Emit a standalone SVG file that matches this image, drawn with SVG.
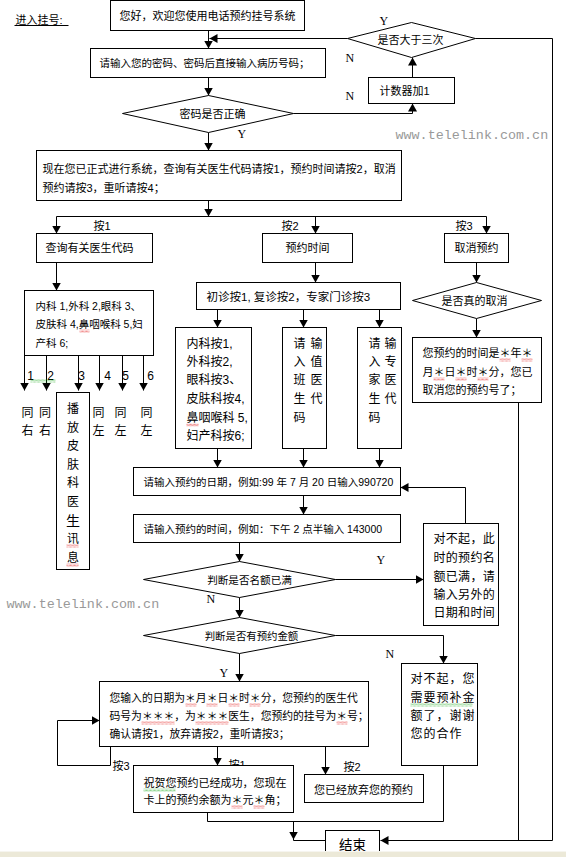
<svg xmlns="http://www.w3.org/2000/svg" width="566" height="857" viewBox="0 0 566 857">
<defs>
<style>
.b{fill:#fff;stroke:#000;stroke-width:1}
.l{fill:none;stroke:#000;stroke-width:1}
.t{font-family:"Liberation Sans","Noto Sans CJK SC",sans-serif;font-size:11px;fill:#000}
.m{text-anchor:middle}
.f12{font-size:12px}
.s{font-family:"Liberation Serif",serif;font-size:12px;fill:#000}
.w{font-family:"Liberation Mono",monospace;font-size:13.4px;fill:#999}
</style>
<marker id="a" markerWidth="9" markerHeight="9" refX="8" refY="4.5" orient="auto" markerUnits="userSpaceOnUse"><path d="M0,0 L8,4.5 L0,9 z" fill="#000"/></marker>
<pattern id="wr" width="4" height="3" patternUnits="userSpaceOnUse"><path d="M0,2.5 L2,0.5 L4,2.5" fill="none" stroke="#e00000" stroke-width="0.9"/></pattern>
<pattern id="wg" width="4" height="3" patternUnits="userSpaceOnUse"><path d="M0,2.5 L2,0.5 L4,2.5" fill="none" stroke="#00a000" stroke-width="0.9"/></pattern>
</defs>
<rect width="566" height="857" fill="#fff"/>
<g transform="translate(0.5,0.5)">
<g id="connectors" class="l">
<path d="M208,30 V48" marker-end="url(#a)"/>
<path d="M347,38 H209" marker-end="url(#a)"/>
<path d="M208,77 V95" marker-end="url(#a)"/>
<path d="M293,113 H412 V103" marker-end="url(#a)"/>
<path d="M412,77 V57" marker-end="url(#a)"/>
<path d="M475,38 H552 V840 H380" marker-end="url(#a)"/>
<path d="M208,132 V150" marker-end="url(#a)"/>
<path d="M208,200 V216" marker-end="url(#a)"/>
<path d="M56,216 H486"/>
<path d="M56,216 V233" marker-end="url(#a)"/>
<path d="M315,216 V233" marker-end="url(#a)"/>
<path d="M486,216 V233" marker-end="url(#a)"/>
<path d="M56,262 V290" marker-end="url(#a)"/>
<path d="M315,262 V282" marker-end="url(#a)"/>
<path d="M476,262 V282" marker-end="url(#a)"/>
<path d="M476,318 V337" marker-end="url(#a)"/>
<path d="M518,402 V840"/>
<path d="M24,355 V390" marker-end="url(#a)"/>
<path d="M46,355 V390" marker-end="url(#a)"/>
<path d="M78,355 V390" marker-end="url(#a)"/>
<path d="M99,355 V390" marker-end="url(#a)"/>
<path d="M122,355 V390" marker-end="url(#a)"/>
<path d="M143,355 V390" marker-end="url(#a)"/>
<path d="M217,309 V327" marker-end="url(#a)"/>
<path d="M303,309 V327" marker-end="url(#a)"/>
<path d="M379,309 V327" marker-end="url(#a)"/>
<path d="M217,448 V467" marker-end="url(#a)"/>
<path d="M303,448 V467" marker-end="url(#a)"/>
<path d="M379,448 V467" marker-end="url(#a)"/>
<path d="M303,495 V514" marker-end="url(#a)"/>
<path d="M239,542 V561" marker-end="url(#a)"/>
<path d="M335,579 H423" marker-end="url(#a)"/>
<path d="M465,523 V487 H400" marker-end="url(#a)"/>
<path d="M239,597 V617" marker-end="url(#a)"/>
<path d="M239,653 V681" marker-end="url(#a)"/>
<path d="M335,635 H443 V663" marker-end="url(#a)"/>
<path d="M110,746 V765 H57 V720 H99" marker-end="url(#a)"/>
<path d="M217,746 V765" marker-end="url(#a)"/>
<path d="M325,746 V774" marker-end="url(#a)"/>
<path d="M443,765 V821 H207 V812"/>
<path d="M293,821 V840 H325"/>
<path d="M293,821 V839" marker-end="url(#a)"/>
</g>
<g id="labels">
<text class="t" x="15" y="23">进入挂号:</text>
<path class="l" d="M14,25 H68"/>
<text class="s" x="379" y="24">Y</text>
<text class="s" x="345" y="61">N</text>
<text class="s" x="345" y="99">N</text>
<text class="s" x="237" y="137">Y</text>
<text class="t" x="93" y="229">按1</text>
<text class="t" x="281" y="229">按2</text>
<text class="t" x="455" y="229">按3</text>
<text class="t f12 m" x="30" y="379">1</text>
<text class="t f12 m" x="50" y="379">2</text>
<text class="t f12 m" x="81" y="379">3</text>
<text class="t f12 m" x="107" y="379">4</text>
<text class="t f12 m" x="125" y="379">5</text>
<text class="t f12 m" x="150" y="379">6</text>
<text class="t f12 m" x="27" y="416">同</text><text class="t f12 m" x="27" y="434">右</text>
<text class="t f12 m" x="44.5" y="416">同</text><text class="t f12 m" x="44.5" y="434">右</text>
<text class="t f12 m" x="98" y="416">同</text><text class="t f12 m" x="98" y="434">左</text>
<text class="t f12 m" x="120" y="416">同</text><text class="t f12 m" x="120" y="434">左</text>
<text class="t f12 m" x="146" y="416">同</text><text class="t f12 m" x="146" y="434">左</text>
<text class="s" x="376" y="563">Y</text>
<text class="s" x="206" y="602">N</text>
<text class="s" x="219" y="676">Y</text>
<text class="s" x="385" y="657">N</text>
<text class="t" x="112" y="769">按3</text>
<text class="t" x="228" y="768">按1</text>
<text class="t" x="343" y="770">按2</text>
<text class="w" x="395" y="138">www.telelink.com.cn</text>
<text class="w" x="6" y="607">www.telelink.com.cn</text>
</g>
<g id="n-welcome"><rect class="b" x="110" y="0" width="194" height="30"/><text class="t m" x="207" y="19">您好，欢迎您使用电话预约挂号系统</text></g>
<g id="n-password"><rect class="b" x="90" y="48" width="235" height="29"/><text class="t" x="99" y="66.5" style="font-size:10.5px">请输入您的密码、密码后直接输入病历号码；</text></g>
<g id="n-check"><path class="b" d="M122,113 L208,95 L293,113 L208,132 z"/><text class="t m" x="212" y="117">密码是否正确</text></g>
<g id="n-counter"><rect class="b" x="368" y="77" width="86" height="26"/><text class="t" x="379" y="94">计数器加1</text></g>
<g id="n-three"><path class="b" d="M347,38 L411,22 L475,38 L411,57 z"/><text class="t m" x="410" y="43">是否大于三次</text></g>
<g id="n-menu"><rect class="b" x="36" y="150" width="365" height="50"/><text class="t" x="42" y="172">现在您已正式进行系统，查询有关医生代码请按1，预约时间请按2，取消</text><text class="t" x="42" y="191">预约请按3，重听请按4；</text></g>
<g id="n-query"><rect class="b" x="36" y="233" width="116" height="29"/><text class="t" x="45" y="251">查询有关医生代码</text></g>
<g id="n-time"><rect class="b" x="262" y="233" width="90" height="29"/><text class="t m" x="307" y="251">预约时间</text></g>
<g id="n-cancel"><rect class="b" x="444" y="233" width="64" height="29"/><text class="t m" x="476" y="251">取消预约</text></g>
<g id="n-dept"><rect class="b" x="24" y="290" width="129" height="65"/><g class="t" style="font-size:10.5px"><text x="35" y="309">内科 1,外科 2,眼科 3、</text><text x="35" y="327">皮肤科 4,鼻咽喉科 5,妇</text><text x="35" y="346">产科 6;</text></g></g>
<g id="n-play"><rect class="b" x="56" y="392" width="33" height="177"/>
<text class="t f12 m" x="72.5" y="412">播</text><text class="t f12 m" x="72.5" y="431">放</text><text class="t f12 m" x="72.5" y="449">皮</text><text class="t f12 m" x="72.5" y="468">肤</text><text class="t f12 m" x="72.5" y="486">科</text><text class="t f12 m" x="72.5" y="505">医</text><text class="t m" x="72.5" y="525" style="font-size:14px">生</text><text class="t f12 m" x="72.5" y="542">讯</text><text class="t f12 m" x="72.5" y="561">息</text></g>
<g id="n-visit"><rect class="b" x="196" y="282" width="204" height="27"/><text class="t" x="206" y="300" style="font-size:11.5px">初诊按1, 复诊按2，专家门诊按3</text></g>
<g id="n-first"><rect class="b" x="175" y="327" width="76" height="121"/><text class="t f12" x="186" y="347">内科按1,</text><text class="t f12" x="186" y="365">外科按2,</text><text class="t f12" x="186" y="383">眼科按3、</text><text class="t f12" x="186" y="402">皮肤科按4,</text><text class="t f12" x="186" y="421">鼻咽喉科  5,</text><text class="t f12" x="186" y="439">妇产科按6;</text></g>
<g id="n-duty"><rect class="b" x="282" y="327" width="44" height="121"/><g class="t f12" style="letter-spacing:5px"><text x="293" y="347">请输</text><text x="293" y="365">入值</text><text x="293" y="383">班医</text><text x="293" y="402">生代</text><text x="293" y="421">码</text></g></g>
<g id="n-expert"><rect class="b" x="357" y="327" width="44" height="121"/><g class="t f12" style="letter-spacing:4px"><text x="368" y="347">请输</text><text x="368" y="365">入专</text><text x="368" y="383">家医</text><text x="368" y="402">生代</text><text x="368" y="421">码</text></g></g>
<g id="n-confirm-cancel"><path class="b" d="M412,300 L476,282 L541,300 L476,318 z"/><text class="t m" x="474" y="304">是否真的取消</text></g>
<g id="n-cancelled"><rect class="b" x="412" y="337" width="129" height="65"/><text class="t" x="422" y="356">您预约的时间是＊年＊</text><text class="t" x="422" y="375">月＊日＊时＊分，您已</text><text class="t" x="422" y="393">取消您的预约号了；</text></g>
<g id="n-date"><rect class="b" x="133" y="467" width="267" height="28"/><text class="t" x="143" y="485" style="font-size:10.5px">请输入预约的日期，例如:99 年 7 月 20 日输入990720</text></g>
<g id="n-hour"><rect class="b" x="133" y="514" width="267" height="28"/><text class="t" x="143" y="532" style="font-size:10.5px">请输入预约的时间，例如：下午 2 点半输入 143000</text></g>
<g id="n-full"><path class="b" d="M143,579 L239,561 L335,579 L239,597 z"/><text class="t m" x="249" y="583" style="font-size:10.6px">判断是否名额已满</text></g>
<g id="n-sorry-full"><rect class="b" x="423" y="523" width="75" height="102"/><g class="t f12" style="letter-spacing:0.3px"><text x="433" y="542">对不起，此</text><text x="433" y="561">时的预约名</text><text x="433" y="580">额已满，请</text><text x="433" y="598">输入另外的</text><text x="433" y="616">日期和时间</text></g></g>
<g id="n-balance"><path class="b" d="M143,635 L239,617 L335,635 L239,653 z"/><text class="t m" x="251" y="639" style="font-size:10.4px">判断是否有预约金额</text></g>
<g id="n-sorry-money"><rect class="b" x="401" y="663" width="76" height="102"/><g class="t f12" style="letter-spacing:1px"><text x="410" y="682">对不起，您</text><text x="410" y="701">需要预补金</text><text x="410" y="719">额了，谢谢</text><text x="410" y="737">您的合作</text></g></g>
<g id="n-summary"><rect class="b" x="99" y="681" width="269" height="65"/><g class="t" style="font-size:10.8px"><text x="109" y="701">您输入的日期为＊月＊日＊时＊分，您预约的医生代</text><text x="109" y="719">码号为＊＊＊，为＊＊＊医生，您预约的挂号为＊号；</text><text x="109" y="737">确认请按1，放弃请按2，重听请按3；</text></g></g>
<g id="n-success"><rect class="b" x="133" y="765" width="160" height="47"/><text class="t" x="143" y="786">祝贺您预约已经成功，您现在</text><text class="t" x="143" y="803">卡上的预约余额为＊元＊角；</text></g>
<g id="n-abandon"><rect class="b" x="304" y="774" width="119" height="28"/><text class="t m" x="363" y="793">您已经放弃您的预约</text></g>
<g id="n-end"><rect class="b" x="325" y="830" width="54" height="40"/><text class="t m" x="352" y="849" style="font-size:13.5px">结束</text></g>
<g id="marks">
<rect x="79" y="329" width="10" height="3" fill="url(#wr)"/>
<rect x="186" y="423" width="12" height="3" fill="url(#wr)"/>
<rect x="30" y="379" width="25" height="3" fill="url(#wg)"/>
<rect x="499" y="358" width="11" height="3" fill="url(#wr)"/>
<rect x="521" y="358" width="11" height="3" fill="url(#wr)"/>
<rect x="433" y="377" width="11" height="3" fill="url(#wr)"/>
<rect x="455" y="377" width="11" height="3" fill="url(#wr)"/>
<rect x="477" y="377" width="11" height="3" fill="url(#wr)"/>
<rect x="66" y="544" width="12" height="3" fill="url(#wr)"/>
<rect x="66" y="563" width="12" height="3" fill="url(#wr)"/>
<rect x="185" y="703" width="11" height="3" fill="url(#wr)"/>
<rect x="206" y="703" width="11" height="3" fill="url(#wr)"/>
<rect x="228" y="703" width="11" height="3" fill="url(#wr)"/>
<rect x="249" y="703" width="11" height="3" fill="url(#wr)"/>
<rect x="141" y="721" width="33" height="3" fill="url(#wr)"/>
<rect x="195" y="721" width="33" height="3" fill="url(#wr)"/>
<rect x="336" y="721" width="11" height="3" fill="url(#wr)"/>
<rect x="410" y="703" width="62" height="3" fill="url(#wg)"/>
<rect x="143" y="788" width="32" height="3" fill="url(#wg)"/>
<rect x="231" y="805" width="11" height="3" fill="url(#wr)"/>
<rect x="253" y="805" width="11" height="3" fill="url(#wr)"/>
</g>
</g>
<rect x="0" y="852" width="566" height="5" fill="#ece9d8"/>
<rect x="0" y="851" width="566" height="1" fill="#f6f5ef"/>
</svg>
